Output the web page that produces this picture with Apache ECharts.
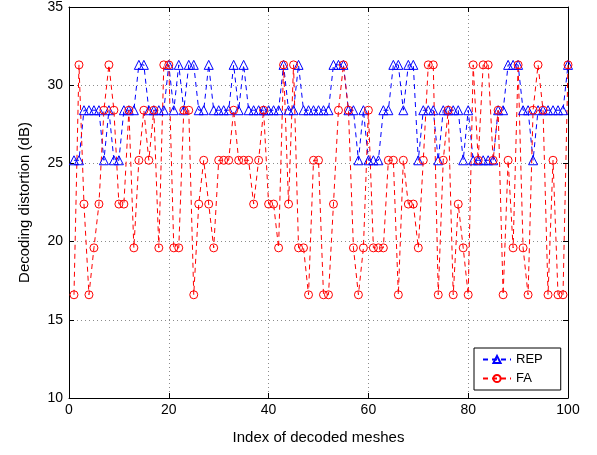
<!DOCTYPE html>
<html>
<head>
<meta charset="utf-8">
<script src="https://cdn.jsdelivr.net/npm/echarts@6/dist/echarts.min.js"></script>
<style>
  html, body { margin: 0; padding: 0; background: #fff; }
  #chart { width: 597px; height: 455px; }
</style>
</head>
<body>
<div id="chart"></div>
<script>
// Decoded mesh indices 1..100
const meshIndex = Array.from({ length: 100 }, (_, k) => k + 1);

// Decoding distortion (dB) per decoded mesh, REP scheme
const repValues = [
  25.2, 25.2, 28.4, 28.4, 28.4, 28.4, 25.2, 28.4, 25.2, 25.2,
  28.4, 28.4, 28.4, 31.3, 31.3, 28.4, 28.4, 28.4, 28.4, 31.3,
  28.4, 31.3, 28.4, 31.3, 31.3, 28.4, 28.4, 31.3, 28.4, 28.4,
  28.4, 28.4, 31.3, 28.4, 31.3, 28.4, 28.4, 28.4, 28.4, 28.4,
  28.4, 28.4, 31.3, 28.4, 28.4, 31.3, 28.4, 28.4, 28.4, 28.4,
  28.4, 28.4, 31.3, 31.3, 31.3, 28.4, 28.4, 25.2, 28.4, 25.2,
  25.2, 25.2, 28.4, 28.4, 31.3, 31.3, 28.4, 31.3, 31.3, 25.2,
  28.4, 28.4, 28.4, 25.2, 28.4, 28.4, 28.4, 28.4, 25.2, 28.4,
  25.2, 25.2, 25.2, 25.2, 25.2, 28.4, 28.4, 31.3, 31.3, 31.3,
  28.4, 28.4, 25.2, 28.4, 28.4, 28.4, 28.4, 28.4, 28.4, 31.3
];

// Decoding distortion (dB) per decoded mesh, FA scheme
const faValues = [
  16.6, 31.3, 22.4, 16.6, 19.6, 22.4, 28.4, 31.3, 28.4, 22.4,
  22.4, 28.4, 19.6, 25.2, 28.4, 25.2, 28.4, 19.6, 31.3, 31.3,
  19.6, 19.6, 28.4, 28.4, 16.6, 22.4, 25.2, 22.4, 19.6, 25.2,
  25.2, 25.2, 28.4, 25.2, 25.2, 25.2, 22.4, 25.2, 28.4, 22.4,
  22.4, 19.6, 31.3, 22.4, 31.3, 19.6, 19.6, 16.6, 25.2, 25.2,
  16.6, 16.6, 22.4, 28.4, 31.3, 28.4, 19.6, 16.6, 19.6, 28.4,
  19.6, 19.6, 19.6, 25.2, 25.2, 16.6, 25.2, 22.4, 22.4, 19.6,
  25.2, 31.3, 31.3, 16.6, 25.2, 28.4, 16.6, 22.4, 19.6, 16.6,
  31.3, 25.2, 31.3, 31.3, 25.2, 28.4, 16.6, 25.2, 19.6, 31.3,
  19.6, 16.6, 28.4, 31.3, 28.4, 16.6, 25.2, 16.6, 16.6, 31.3
];

const seriesNames = ['REP', 'FA'];
const xTitle = 'Index of decoded meshes';
const yTitle = 'Decoding distortion (dB)';

const FONT = '"Liberation Sans", Arial, Helvetica, sans-serif';

const pair = (vals) => meshIndex.map((x, k) => [x, vals[k]]);

const chart = echarts.init(document.getElementById('chart'), null, { renderer: 'canvas' });

const gridLine = { show: true, lineStyle: { color: '#8c8c8c', type: [1, 3], width: 1 } };
const tick = { show: true, inside: true, length: 5, lineStyle: { color: '#000' } };
const line = { show: true, onZero: false, lineStyle: { color: '#000', width: 1 } };

chart.setOption({
  backgroundColor: '#fff',
  animation: false,
  grid: { left: 69, right: 29, top: 5, bottom: 57, containLabel: false },
  xAxis: [
    {
      type: 'value', min: 0, max: 100, interval: 20,
      name: xTitle, nameLocation: 'middle', nameGap: 32,
      nameTextStyle: { fontFamily: FONT, fontSize: 15, color: '#000' },
      axisLine: line, axisTick: tick, splitLine: gridLine,
      axisLabel: { fontFamily: FONT, fontSize: 14, color: '#000', margin: 5 }
    },
    {
      type: 'value', position: 'top', min: 0, max: 100, interval: 20,
      axisLine: line, axisTick: tick, splitLine: { show: false },
      axisLabel: { show: false }
    }
  ],
  yAxis: [
    {
      type: 'value', min: 10, max: 35, interval: 5,
      name: yTitle, nameLocation: 'middle', nameGap: 37,
      nameTextStyle: { fontFamily: FONT, fontSize: 15, color: '#000' },
      axisLine: line, axisTick: tick, splitLine: gridLine,
      axisLabel: { fontFamily: FONT, fontSize: 14, color: '#000', margin: 6 }
    },
    {
      type: 'value', position: 'right', min: 10, max: 35, interval: 5,
      axisLine: line, axisTick: tick, splitLine: { show: false },
      axisLabel: { show: false }
    }
  ],
  legend: {
    orient: 'vertical',
    left: 474, top: 348,
    padding: [5, 18, 5, 8],
    itemGap: 6,
    itemWidth: 28, itemHeight: 9,
    backgroundColor: '#fff',
    borderColor: '#000', borderWidth: 1,
    textStyle: { fontFamily: FONT, fontSize: 13, color: '#000' },
    data: seriesNames
  },
  series: [
    {
      name: seriesNames[0], type: 'line', data: pair(repValues),
      symbol: 'triangle', symbolSize: 9,
      lineStyle: { color: '#0000ff', width: 1, type: [5, 4] },
      itemStyle: { color: 'rgba(0,0,0,0)', borderColor: '#0000ff', borderWidth: 1 },
      emphasis: { disabled: true }
    },
    {
      name: seriesNames[1], type: 'line', data: pair(faValues),
      symbol: 'circle', symbolSize: 8,
      lineStyle: { color: '#ff0000', width: 1, type: [5, 4] },
      itemStyle: { color: 'rgba(0,0,0,0)', borderColor: '#ff0000', borderWidth: 1 },
      emphasis: { disabled: true }
    }
  ]
});
</script>
</body>
</html>
